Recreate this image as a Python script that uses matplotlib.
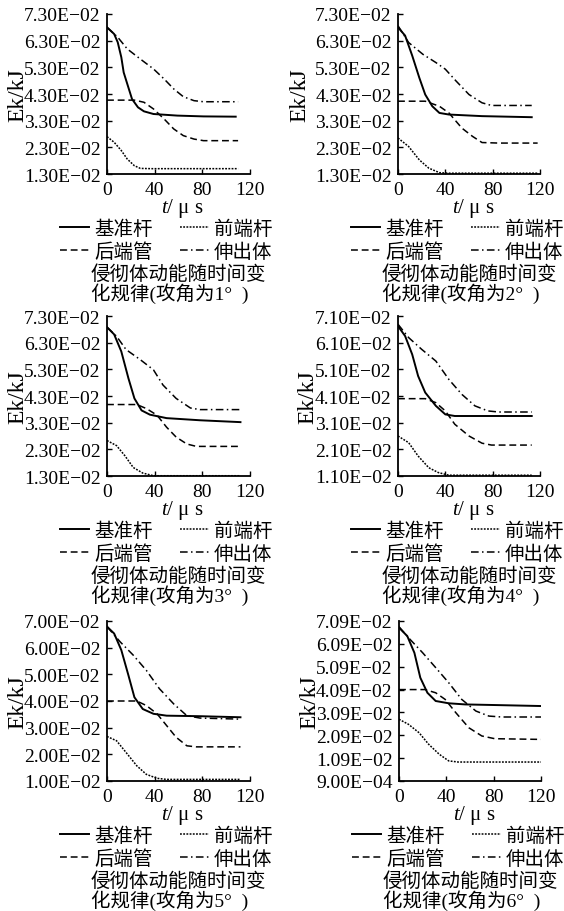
import numpy as np
import matplotlib
matplotlib.use("Agg")
import matplotlib.pyplot as plt

plt.rcParams["font.family"] = ["Liberation Serif", "Noto Sans CJK SC"]
plt.rcParams["mathtext.fontset"] = "custom"
plt.rcParams["mathtext.rm"] = "Liberation Serif"
plt.rcParams["mathtext.it"] = "Liberation Serif:italic"

W, H = 564, 912

series_names = ["基准杆", "前端杆", "后端管", "伸出体"]
angles = [1, 2, 3, 4, 5, 6]
y_bottoms = [0.013, 0.013, 0.013, 0.011, 0.010, 0.0009]

# attack angle 1
t1_jz = [0, 6, 9, 12, 14, 17, 21, 26, 31, 39, 59, 81, 108]
e1_jz = [.0680, .0655, .0624, .0568, .0511, .0468, .0411, .0380, .0365, .0355, .0349, .0346, .0345]
t1_qd = [0, 6, 12, 17, 23, 28, 37, 110]
e1_qd = [.0270, .0249, .0218, .0186, .0161, .0151, .0150, .0150]
t1_hd = [0, 23, 31, 39, 48, 56, 64, 73, 81, 110]
e1_hd = [.0407, .0407, .0399, .0374, .0336, .0299, .0274, .0261, .0255, .0255]
t1_sc = [0, 9, 17, 28, 39, 48, 56, 64, 73, 81, 110]
e1_sc = [.0680, .0643, .0599, .0561, .0524, .0486, .0449, .0420, .0405, .0401, .0401]

# attack angle 2
t2_jz = [0, 6, 12, 18, 23, 29, 35, 43, 71, 113]
e2_jz = [.0680, .0649, .0574, .0491, .0428, .0384, .0359, .0353, .0347, .0343]
t2_qd = [0, 9, 18, 26, 35, 43, 118]
e2_qd = [.0265, .0233, .0183, .0152, .0135, .0133, .0133]
t2_hd = [0, 23, 35, 43, 54, 63, 71, 85, 118]
e2_hd = [.0403, .0403, .0384, .0359, .0302, .0271, .0248, .0246, .0246]
t2_sc = [0, 9, 21, 32, 40, 49, 60, 71, 79, 113]
e2_sc = [.0686, .0623, .0579, .0548, .0523, .0479, .0428, .0397, .0387, .0387]

# attack angle 3
t3_jz = [0, 6, 12, 18, 23, 29, 36, 50, 78, 112]
e3_jz = [.0688, .0661, .0597, .0496, .0421, .0376, .0360, .0347, .0339, .0332]
t3_qd = [0, 8, 15, 22, 30, 39, 112]
e3_qd = [.0263, .0244, .0206, .0162, .0141, .0131, .0131]
t3_hd = [0, 25, 33, 42, 50, 58, 67, 75, 112]
e3_hd = [.0398, .0398, .0383, .0358, .0313, .0276, .0250, .0241, .0241]
t3_sc = [0, 8, 16, 28, 39, 47, 58, 70, 78, 112]
e3_sc = [.0688, .0654, .0604, .0566, .0528, .0471, .0421, .0385, .0379, .0379]

# attack angle 4
t4_jz = [0, 6, 12, 17, 23, 32, 40, 48, 113]
e4_jz = [.0672, .0635, .0566, .0485, .0423, .0373, .0341, .0335, .0335]
t4_qd = [0, 9, 17, 26, 34, 43, 113]
e4_qd = [.0260, .0235, .0185, .0141, .0123, .0113, .0113]
t4_hd = [0, 23, 32, 40, 48, 60, 71, 79, 113]
e4_hd = [.0400, .0400, .0385, .0354, .0304, .0260, .0233, .0226, .0226]
t4_sc = [0, 9, 20, 32, 43, 54, 65, 76, 85, 113]
e4_sc = [.0679, .0629, .0585, .0541, .0472, .0416, .0373, .0354, .0350, .0350]

# attack angle 5
t5_jz = [0, 6, 12, 18, 23, 30, 39, 50, 78, 112]
e5_jz = [.0679, .0653, .0591, .0496, .0414, .0370, .0352, .0345, .0343, .0339]
t5_qd = [0, 8, 16, 25, 33, 42, 50, 112]
e5_qd = [.0267, .0251, .0207, .0157, .0125, .0110, .0106, .0106]
t5_hd = [0, 25, 33, 42, 50, 58, 67, 75, 112]
e5_hd = [.0400, .0400, .0383, .0352, .0308, .0264, .0232, .0228, .0228]
t5_sc = [0, 11, 22, 33, 44, 56, 67, 78, 112]
e5_sc = [.0679, .0622, .0572, .0515, .0446, .0389, .0345, .0336, .0332]

# attack angle 6
t6_jz = [0, 7, 13, 18, 24, 31, 42, 56, 84, 120]
e6_jz = [.0680, .0643, .0570, .0461, .0395, .0359, .0349, .0344, .0341, .0337]
t6_qd = [0, 8, 17, 25, 34, 42, 50, 120]
e6_qd = [.0279, .0257, .0220, .0170, .0126, .0097, .0092, .0092]
t6_hd = [0, 22, 31, 39, 48, 59, 70, 81, 120]
e6_hd = [.0409, .0409, .0395, .0366, .0308, .0242, .0206, .0194, .0191]
t6_sc = [0, 8, 20, 31, 42, 53, 65, 76, 87, 120]
e6_sc = [.0684, .0636, .0570, .0505, .0439, .0366, .0315, .0293, .0289, .0289]

panels = [
    [(t1_jz, e1_jz), (t1_qd, e1_qd), (t1_hd, e1_hd), (t1_sc, e1_sc)],
    [(t2_jz, e2_jz), (t2_qd, e2_qd), (t2_hd, e2_hd), (t2_sc, e2_sc)],
    [(t3_jz, e3_jz), (t3_qd, e3_qd), (t3_hd, e3_hd), (t3_sc, e3_sc)],
    [(t4_jz, e4_jz), (t4_qd, e4_qd), (t4_hd, e4_hd), (t4_sc, e4_sc)],
    [(t5_jz, e5_jz), (t5_qd, e5_qd), (t5_hd, e5_hd), (t5_sc, e5_sc)],
    [(t6_jz, e6_jz), (t6_qd, e6_qd), (t6_hd, e6_hd), (t6_sc, e6_sc)],
]

# axes boxes in pixels: left, top, right, bottom
boxes = [(107, 15, 250, 175), (398, 15, 540, 175),
         (107, 317, 250, 477), (398, 317, 540, 477),
         (107, 622, 250, 782), (399, 622, 541, 782)]
ylab_px = [28, 310, 28, 318, 28, 320]   # bbox edge of rotated y label

styles = [dict(ls="-", lw=1.4),
          dict(ls=(0, (1.2, 0.9)), lw=1.1),
          dict(ls=(0, (4.5, 2.5)), lw=1.1),
          dict(ls=(0, (5, 2.2, 1, 2.2)), lw=1.1)]

cjk = ["Noto Sans CJK SC"]
mixed = ["Liberation Serif", "Noto Sans CJK SC"]

fig = plt.figure(figsize=(W / 100, H / 100), dpi=100)

for i, (box, data) in enumerate(zip(boxes, panels)):
    l, t, r, b = box
    ax = fig.add_axes([l / W, 1 - b / H, (r - l) / W, (b - t) / H])
    handles = []
    for (tt, ee), st in zip(data, styles):
        h, = ax.plot(tt, ee, color="black", **st)
        handles.append(h)

    y0 = y_bottoms[i]
    yticks = y0 + 0.01 * np.arange(8 if i == 5 else 7)
    ax.set_xlim(0, 120)
    ax.set_ylim(yticks[0], yticks[-1])
    ax.set_xticks([0, 40, 80, 120])
    ax.set_yticks(yticks)
    ax.set_yticklabels([f"{v:.2E}".replace("-", "\u2212") for v in yticks])
    ax.tick_params(direction="in", length=3.5, width=1.0, pad=4.5)
    ax.tick_params(axis="y", labelsize=14)
    ax.tick_params(axis="x", labelsize=14, pad=5)
    for s in ["top", "right"]:
        ax.spines[s].set_visible(False)
    for s in ["left", "bottom"]:
        ax.spines[s].set_linewidth(1.3)

    ax.set_ylabel("Ek/kJ", fontsize=17)
    ax.yaxis.set_label_coords((ylab_px[i] - l) / (r - l), 0.5)
    ax.set_xlabel(r"$t$/ μ s", fontsize=15)
    ax.xaxis.set_label_coords(0.53, -0.135)

    # legend rows: 基准杆 前端杆 / 后端管 伸出体
    order = [0, 2, 1, 3]
    ax.legend([handles[k] for k in order], [series_names[k] for k in order],
              ncol=2, frameon=False, loc="upper left",
              bbox_to_anchor=((l - 47) / W, 1 - (b + 44) / H),
              bbox_transform=fig.transFigure,
              prop={"family": cjk, "size": 14},
              borderpad=0, borderaxespad=0, handlelength=1.5,
              handletextpad=0.25, columnspacing=1.4, labelspacing=0.1)

    # caption, two lines placed by baseline
    fig.text((l - 16) / W, 1 - (b + 105) / H, "侵彻体动能随时间变",
             fontsize=14, family=cjk, va="baseline", ha="left")
    fig.text((l - 16) / W, 1 - (b + 124.5) / H, f"化规律(攻角为{angles[i]}°  )",
             fontsize=14, family=mixed, va="baseline", ha="left")

fig.savefig("out.png", dpi=100, facecolor="white")
